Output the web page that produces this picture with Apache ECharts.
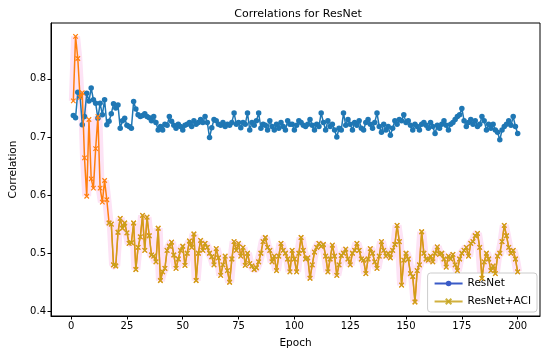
<!DOCTYPE html>
<html><head><meta charset="utf-8">
<script src="https://cdn.jsdelivr.net/npm/echarts@6/dist/echarts.min.js"></script>
<style>html,body{margin:0;padding:0;background:#fff}#c{width:550px;height:357px}</style>
</head><body><div id="c"></div>
<script>
const title = 'Correlations for ResNet';
const xTicks = [0, 25, 50, 75, 100, 125, 150, 175, 200];
const yTicks = [0.4, 0.5, 0.6, 0.7, 0.8];
const resnet = [
0.737,0.733,0.777,0.771,0.721,0.735,0.775,0.762,0.784,0.764,
0.758,0.732,0.758,0.738,0.764,0.721,0.727,0.740,0.757,0.750,
0.755,0.715,0.728,0.732,0.720,0.718,0.715,0.761,0.748,0.738,
0.735,0.737,0.740,0.735,0.733,0.728,0.735,0.725,0.712,0.718,
0.712,0.722,0.720,0.735,0.727,0.720,0.715,0.722,0.718,0.712,
0.720,0.722,0.725,0.718,0.728,0.722,0.725,0.730,0.725,0.735,
0.725,0.699,0.716,0.730,0.728,0.722,0.720,0.725,0.718,0.722,
0.720,0.725,0.741,0.722,0.725,0.716,0.725,0.722,0.741,0.712,
0.725,0.720,0.728,0.741,0.715,0.722,0.720,0.712,0.728,0.718,
0.712,0.722,0.715,0.725,0.718,0.712,0.728,0.722,0.722,0.712,
0.720,0.728,0.725,0.720,0.718,0.722,0.730,0.720,0.712,0.722,
0.718,0.741,0.725,0.712,0.728,0.718,0.722,0.712,0.700,0.715,
0.712,0.741,0.720,0.730,0.722,0.712,0.725,0.720,0.728,0.715,
0.712,0.725,0.730,0.722,0.715,0.725,0.741,0.718,0.708,0.722,
0.712,0.718,0.703,0.715,0.728,0.722,0.730,0.728,0.738,0.725,
0.728,0.720,0.712,0.722,0.718,0.712,0.722,0.725,0.720,0.715,
0.725,0.718,0.706,0.720,0.715,0.722,0.728,0.720,0.712,0.722,
0.725,0.730,0.735,0.738,0.749,0.728,0.718,0.725,0.730,0.722,
0.728,0.718,0.722,0.735,0.728,0.712,0.722,0.715,0.722,0.712,
0.708,0.695,0.712,0.718,0.722,0.728,0.720,0.735,0.718,0.706
];
const resnetAci = [
0.762,0.873,0.835,0.768,0.776,0.664,0.598,0.730,0.628,0.612,
0.680,0.735,0.612,0.588,0.625,0.592,0.552,0.550,0.480,0.478,
0.536,0.560,0.543,0.552,0.535,0.517,0.518,0.552,0.472,0.510,
0.528,0.565,0.505,0.562,0.530,0.497,0.495,0.485,0.543,0.453,
0.468,0.474,0.505,0.512,0.519,0.497,0.474,0.490,0.505,0.512,
0.479,0.500,0.521,0.510,0.533,0.453,0.500,0.522,0.505,0.517,
0.510,0.500,0.494,0.480,0.508,0.492,0.462,0.480,0.495,0.470,
0.450,0.490,0.520,0.505,0.517,0.495,0.510,0.479,0.500,0.482,
0.478,0.472,0.475,0.485,0.500,0.520,0.527,0.510,0.505,0.485,
0.495,0.470,0.495,0.517,0.505,0.500,0.490,0.468,0.505,0.490,
0.468,0.500,0.527,0.505,0.490,0.492,0.457,0.480,0.502,0.510,
0.517,0.512,0.515,0.495,0.468,0.490,0.514,0.495,0.462,0.480,
0.496,0.500,0.507,0.490,0.480,0.500,0.505,0.517,0.505,0.490,
0.488,0.465,0.490,0.508,0.500,0.485,0.474,0.495,0.520,0.505,
0.495,0.500,0.492,0.505,0.515,0.548,0.520,0.445,0.488,0.500,
0.490,0.465,0.460,0.416,0.470,0.480,0.537,0.500,0.490,0.488,
0.495,0.485,0.500,0.511,0.498,0.500,0.490,0.476,0.495,0.490,
0.498,0.480,0.470,0.490,0.500,0.505,0.510,0.495,0.517,0.520,
0.530,0.534,0.510,0.457,0.485,0.500,0.490,0.470,0.478,0.465,
0.495,0.500,0.520,0.548,0.530,0.510,0.500,0.505,0.490,0.468
];
const oliveFrom = 17; // epoch where the olive overlay begins
const epochs = resnet.map((_, i) => i + 1);
const pairs = arr => arr.map((v, i) => [epochs[i], v]);
const olivePairs = resnetAci.map((v, i) => [epochs[i], epochs[i] >= oliveFrom ? v : null]);
const FONT = 'DejaVu Sans';
const XSYM = 'path://M0,0L10,10M10,0L0,10';

const chart = echarts.init(document.getElementById('c'), null, {renderer: 'canvas'});
chart.setOption({
  animation: false,
  backgroundColor: '#fff',
  textStyle: {fontFamily: FONT},
  title: {text: title, left: 293, textAlign: 'center', top: 4,
    textStyle: {fontFamily: FONT, fontSize: 11, fontWeight: 'normal', color: '#000'}},
  grid: {left: 46, right: 10, top: 23, bottom: 41, show: true, borderColor: '#000', borderWidth: 1, containLabel: false},
  xAxis: {type: 'value', min: -9, max: 210,
    name: 'Epoch', nameLocation: 'middle', nameGap: 22,
    nameTextStyle: {fontFamily: FONT, fontSize: 10.5, color: '#000'},
    axisLine: {show: true, onZero: false, lineStyle: {color: '#000'}},
    axisTick: {show: true, length: 3.5, customValues: xTicks, lineStyle: {color: '#000'}},
    axisLabel: {customValues: xTicks, fontFamily: FONT, fontSize: 10, color: '#000', margin: 5},
    splitLine: {show: false}},
  yAxis: {type: 'value', min: 0.392, max: 0.896,
    name: 'Correlation', nameLocation: 'middle', nameGap: 32, nameRotate: 90,
    nameTextStyle: {fontFamily: FONT, fontSize: 10.5, color: '#000'},
    axisLine: {show: true, onZero: false, lineStyle: {color: '#000'}},
    axisTick: {show: true, length: 3.5, customValues: yTicks, lineStyle: {color: '#000'}},
    axisLabel: {customValues: yTicks, fontFamily: FONT, fontSize: 10, color: '#000', margin: 5,
      formatter: v => v.toFixed(1)},
    splitLine: {show: false}},
  legend: {orient: 'vertical', right: 13, bottom: 45, itemWidth: 28, itemHeight: 7, itemGap: 7,
    padding: [5, 6, 5, 6], borderColor: '#ccc', borderWidth: 1, borderRadius: 3, backgroundColor: '#fff',
    textStyle: {fontFamily: FONT, fontSize: 10.5, color: '#000'},
    data: [
      {name: 'ResNet', itemStyle: {color: '#3a5bc7'}, lineStyle: {color: '#3a5bc7'}},
      {name: 'ResNet+ACI', itemStyle: {color: '#c9a21c'}, lineStyle: {color: '#c9a21c'}}
    ]},
  series: [
    {name: 'ResNet', type: 'line', data: pairs(resnet), symbol: 'circle', symbolSize: 5.5,
      lineStyle: {color: '#1f77b4', width: 1.5}, itemStyle: {color: '#1f77b4'}, z: 3},
    {name: 'band', type: 'line', data: pairs(resnetAci), symbol: 'none', silent: true,
      lineStyle: {color: '#fde3f5', width: 9, opacity: 1}, z: 2},
    {name: 'orange', type: 'line', data: pairs(resnetAci), symbol: XSYM, symbolSize: 4.5,
      lineStyle: {color: '#ff7f0e', width: 1.5}, itemStyle: {color: '#ff7f0e', borderColor: '#ff7f0e', borderWidth: 1.2}, z: 4},
    {name: 'ResNet+ACI', type: 'line', data: olivePairs, symbol: XSYM, symbolSize: 4.5, connectNulls: false,
      lineStyle: {color: '#c4a41c', width: 1.3, opacity: 0.85},
      itemStyle: {color: '#c4a41c', borderColor: '#c4a41c', borderWidth: 1.2, opacity: 0.85}, z: 5}
  ]
});
</script></body></html>
